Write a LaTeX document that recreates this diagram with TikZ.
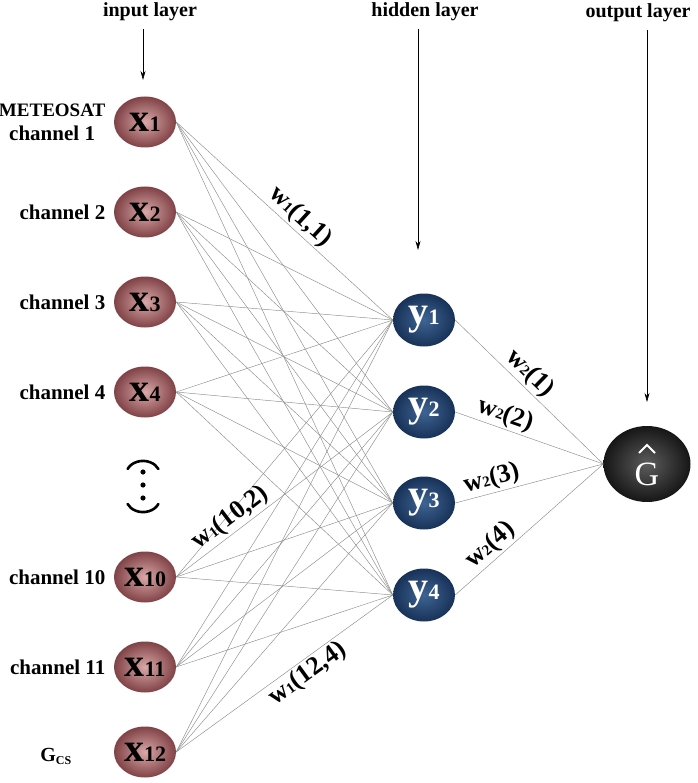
\documentclass[tikz,border=0pt]{standalone}
\usepackage{fontspec}
\setmainfont{Liberation Serif}
\usetikzlibrary{arrows.meta,positioning,shapes.geometric}
\definecolor{inpink}{RGB}{218,168,168}
\definecolor{inrose}{RGB}{128,66,70}
\definecolor{hidlite}{RGB}{62,100,148}
\definecolor{hiddark}{RGB}{24,50,88}
\definecolor{outlite}{RGB}{92,92,92}
\definecolor{outdark}{RGB}{22,22,22}

% unit label: big letter, small index
\newcommand{\neur}[2]{{\fontsize{40}{40}\selectfont\bfseries #1}{\fontsize{22}{22}\selectfont\bfseries #2}}
% weight label
\newcommand{\wgt}[2]{{\fontsize{26}{26}\selectfont w}{\fontsize{15}{15}\selectfont #1}{\fontsize{26}{26}\selectfont #2}}

\begin{document}
\begin{tikzpicture}[
  x=1pt, y=-1pt,
  inunit/.style={ellipse, minimum width=62pt, minimum height=51pt, inner sep=0pt,
    shading=radial, inner color=inpink, outer color=inrose},
  hidunit/.style={ellipse, minimum width=62pt, minimum height=53pt, inner sep=0pt,
    shading=radial, inner color=hidlite, outer color=hiddark, text=white},
  outunit/.style={ellipse, minimum width=87pt, minimum height=76pt, inner sep=0pt,
    shading=radial, inner color=outlite, outer color=outdark, text=white},
  chan/.style={font=\fontsize{21}{24}\selectfont\bfseries, align=center},
  layer/.style={font=\fontsize{20}{22}\selectfont\bfseries},
  conn/.style={gray!90, line width=0.45pt},
  wlbl/.style={font=\bfseries, sloped, inner sep=2pt},
  lay/.style={-{Stealth[length=9pt,width=5pt]}, line width=0.6pt},
  brk/.style={line width=2.6pt, line cap=round},
]
\useasboundingbox (0,0) rectangle (697,783);

% input layer
\foreach \n/\yy in {1/122, 2/212, 3/302, 4/392, 10/577, 11/667, 12/752}
  \node[inunit] (x\n) at (145,\yy) {\neur{x}{\n}};
\node[chan, left=5pt of x1] (c1) {{\fontsize{19}{22}\selectfont METEOSAT}\\channel 1};
\foreach \n in {2,3,4,10,11}
  \node[chan, left=5pt of x\n] (c\n) {channel \n};
\node[font=\fontsize{20}{20}\selectfont\bfseries] (gcs) at (56,756)
  {G\textsubscript{\fontsize{12}{12}\selectfont CS}};

% skipped channels: dots between two arcs
\coordinate (dots) at (143,485);
\foreach \d in {-13,0,13}
  \fill ([yshift=-\d pt]dots) circle (2.6pt);
\draw[brk] ([shift={(-15.4,-16)}]dots) arc[start angle=205, end angle=335, x radius=17, y radius=14];
\draw[brk] ([shift={(15.4,19)}]dots) arc[start angle=25, end angle=155, x radius=17, y radius=14];

% hidden layer
\foreach \n/\yy in {1/320, 2/412, 3/503, 4/595}
  \node[hidunit] (y\n) at (424,\yy) {\neur{y}{\n}};

% output unit, G with a hat
\node[outunit] (g) at (647,464) {};
\node[text=white, font=\fontsize{34}{34}\selectfont, inner sep=0pt] (gtxt)
  at ([yshift=-10pt]g.center) {G};
\draw[white, line width=1.8pt, line join=miter]
  ([shift={(-8,-11)}]g.center) -- ([shift={(0,-19)}]g.center) -- ([shift={(8,-11)}]g.center);

% connections
\foreach \i in {1,2,3,4,10,11,12}
  \foreach \j in {1,...,4}
    \draw[conn] (x\i.east) -- (y\j.west);
\foreach \j in {1,...,4}
  \draw[conn] (y\j.east) -- (g.west);

% weight labels
\path (x1.east) -- (y1.west) node[wlbl, above, pos=.53] {\wgt{1}{(1,1)}};
\path (x10.east) -- (y2.west) node[wlbl, above, pos=.29] {\wgt{1}{(10,2)}};
\path (x12.east) -- (y4.west) node[wlbl, below, pos=.57] {\wgt{1}{(12,4)}};
\path (y1.east) -- (g.west) node[wlbl, above, pos=.44] {\wgt{2}{(1)}};
\path (y2.east) -- (g.west) node[wlbl, above, pos=.31] {\wgt{2}{(2)}};
\path (y3.east) -- (g.west) node[wlbl, above, pos=.27] {\wgt{2}{(3)}};
\path (y4.east) -- (g.west) node[wlbl, above, pos=.30] {\wgt{2}{(4)}};

% layer titles
\node[layer] (inlay) at (150,12) {input layer};
\node[layer] (hidlay) at (425,12) {hidden layer};
\node[layer] (outlay) at (638,13) {output layer};
\coordinate (intip) at (143,80);
\coordinate (hidtip) at (418,250);
\coordinate (outtip) at (647,402);
\draw[lay, shorten <=4pt] (inlay.south -| intip) -- (intip);
\draw[lay, shorten <=4pt] (hidlay.south -| hidtip) -- (hidtip);
\draw[lay, shorten <=4pt] (outlay.south -| outtip) -- (outtip);
\end{tikzpicture}
\end{document}
